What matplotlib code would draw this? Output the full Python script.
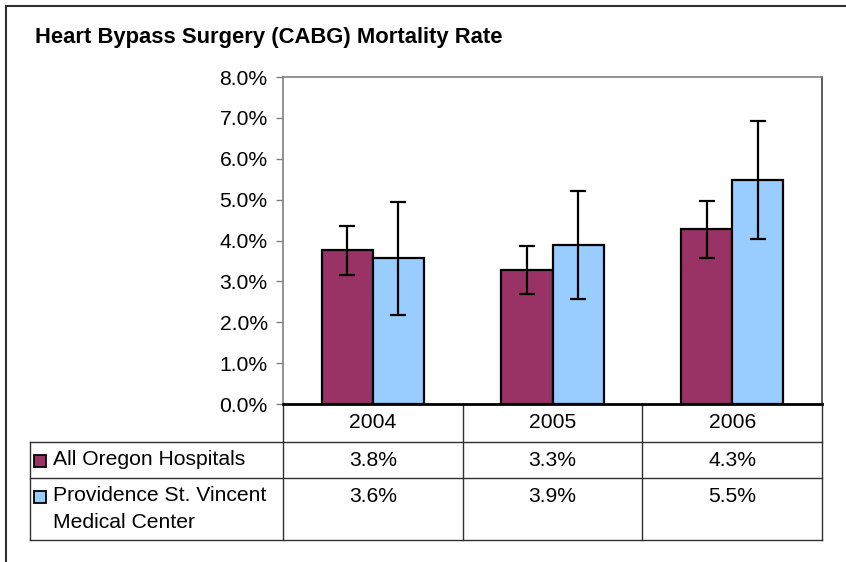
import numpy as np
import matplotlib
matplotlib.use('Agg')
import matplotlib.pyplot as plt
from matplotlib.transforms import blended_transform_factory
from matplotlib.lines import Line2D

plt.rcParams['font.family'] = ['Liberation Sans', 'DejaVu Sans']

# data
years = ['2004', '2005', '2006']
series_names = ['All Oregon Hospitals', 'Providence St. Vincent\nMedical Center']
oregon = [3.77, 3.28, 4.28]
oregon_lo = [3.16, 2.68, 3.57]
oregon_hi = [4.35, 3.86, 4.97]
vincent = [3.58, 3.90, 5.48]
vincent_lo = [2.18, 2.57, 4.03]
vincent_hi = [4.95, 5.22, 6.92]
oregon_labels = ['3.8%', '3.3%', '4.3%']
vincent_labels = ['3.6%', '3.9%', '5.5%']
colors = ['#993366', '#99CCFF']

W, H = 846, 562
fig = plt.figure(figsize=(W / 100, H / 100), dpi=100)

# plot area (pixels: left 283, right 822, top 77, bottom 404)
ax = fig.add_axes([283 / W, 1 - 404 / H, (822 - 283) / W, (404 - 77) / H])

x = np.arange(len(years))
bw = 0.284
ov = np.array(oregon)
vv = np.array(vincent)
ax.bar(x - bw / 2, ov, bw, color=colors[0], edgecolor='black', linewidth=1.6, zorder=2)
ax.bar(x + bw / 2, vv, bw, color=colors[1], edgecolor='black', linewidth=1.6, zorder=2)
ax.errorbar(x - bw / 2, ov, yerr=[ov - np.array(oregon_lo), np.array(oregon_hi) - ov],
            fmt='none', ecolor='black', elinewidth=1.6, capsize=5.5, capthick=1.6, zorder=3)
ax.errorbar(x + bw / 2, vv, yerr=[vv - np.array(vincent_lo), np.array(vincent_hi) - vv],
            fmt='none', ecolor='black', elinewidth=1.6, capsize=5.5, capthick=1.6, zorder=3)

fs = 15.2
ax.set_xlim(-0.5, len(years) - 0.5)
ax.set_ylim(0, 8)
ax.set_yticks(np.arange(0, 8.1, 1))
ax.set_yticklabels(['%.1f%%' % v for v in np.arange(0, 8.1, 1)], fontsize=fs)
ax.set_xticks([])
ax.tick_params(axis='y', length=5, color='#808080', width=1, pad=6)
for s in ['top', 'left']:
    ax.spines[s].set_color('#808080')
    ax.spines[s].set_linewidth(1.2)
ax.spines['right'].set_color('#404040')
ax.spines['right'].set_linewidth(1.2)
ax.spines['bottom'].set_color('black')
ax.spines['bottom'].set_linewidth(2)

# title
fig.text(35 / W, 1 - 38 / H, 'Heart Bypass Surgery (CABG) Mortality Rate',
         fontsize=15.8, fontweight='bold', ha='left', va='center')

# data table under the chart
tr = blended_transform_factory(ax.transData, fig.transFigure)
ff = fig.transFigure


def fy(py):
    return 1 - py / H


line_kw = dict(color='#303030', linewidth=1, clip_on=False)
# vertical column lines
for b in np.arange(len(years) + 1) - 0.5:
    ax.plot([b, b], [fy(404), fy(540)], transform=tr, **line_kw)
# horizontal row lines and left edge
for py in [442, 478, 540]:
    fig.add_artist(Line2D([30 / W, 822 / W], [fy(py), fy(py)], transform=ff, **line_kw))
fig.add_artist(Line2D([30 / W, 30 / W], [fy(442), fy(540)], transform=ff, **line_kw))

for i, yr in enumerate(years):
    ax.text(i, fy(423), yr, transform=tr, ha='center', va='center', fontsize=fs)
    ax.text(i, fy(461), oregon_labels[i], transform=tr, ha='center', va='center', fontsize=fs)
    ax.text(i, fy(497), vincent_labels[i], transform=tr, ha='center', va='center', fontsize=fs)

row_y = [461, 497]
for name, col, py in zip(series_names, colors, row_y):
    fig.add_artist(Line2D([40 / W], [fy(py)], transform=ff, marker='s', markersize=8,
                          markerfacecolor=col, markeredgecolor='black', markeredgewidth=1.3,
                          linestyle='none'))
    fig.text(53 / W, fy(py - 11), name, ha='left', va='top', fontsize=fs, linespacing=1.55)

# outer frame
fig.add_artist(Line2D([6 / W, 6 / W], [0, fy(6)], transform=ff, color='#303030', linewidth=1.5))
fig.add_artist(Line2D([6 / W, 1], [fy(6), fy(6)], transform=ff, color='#303030', linewidth=1.5))

fig.savefig('out.png', dpi=100)
